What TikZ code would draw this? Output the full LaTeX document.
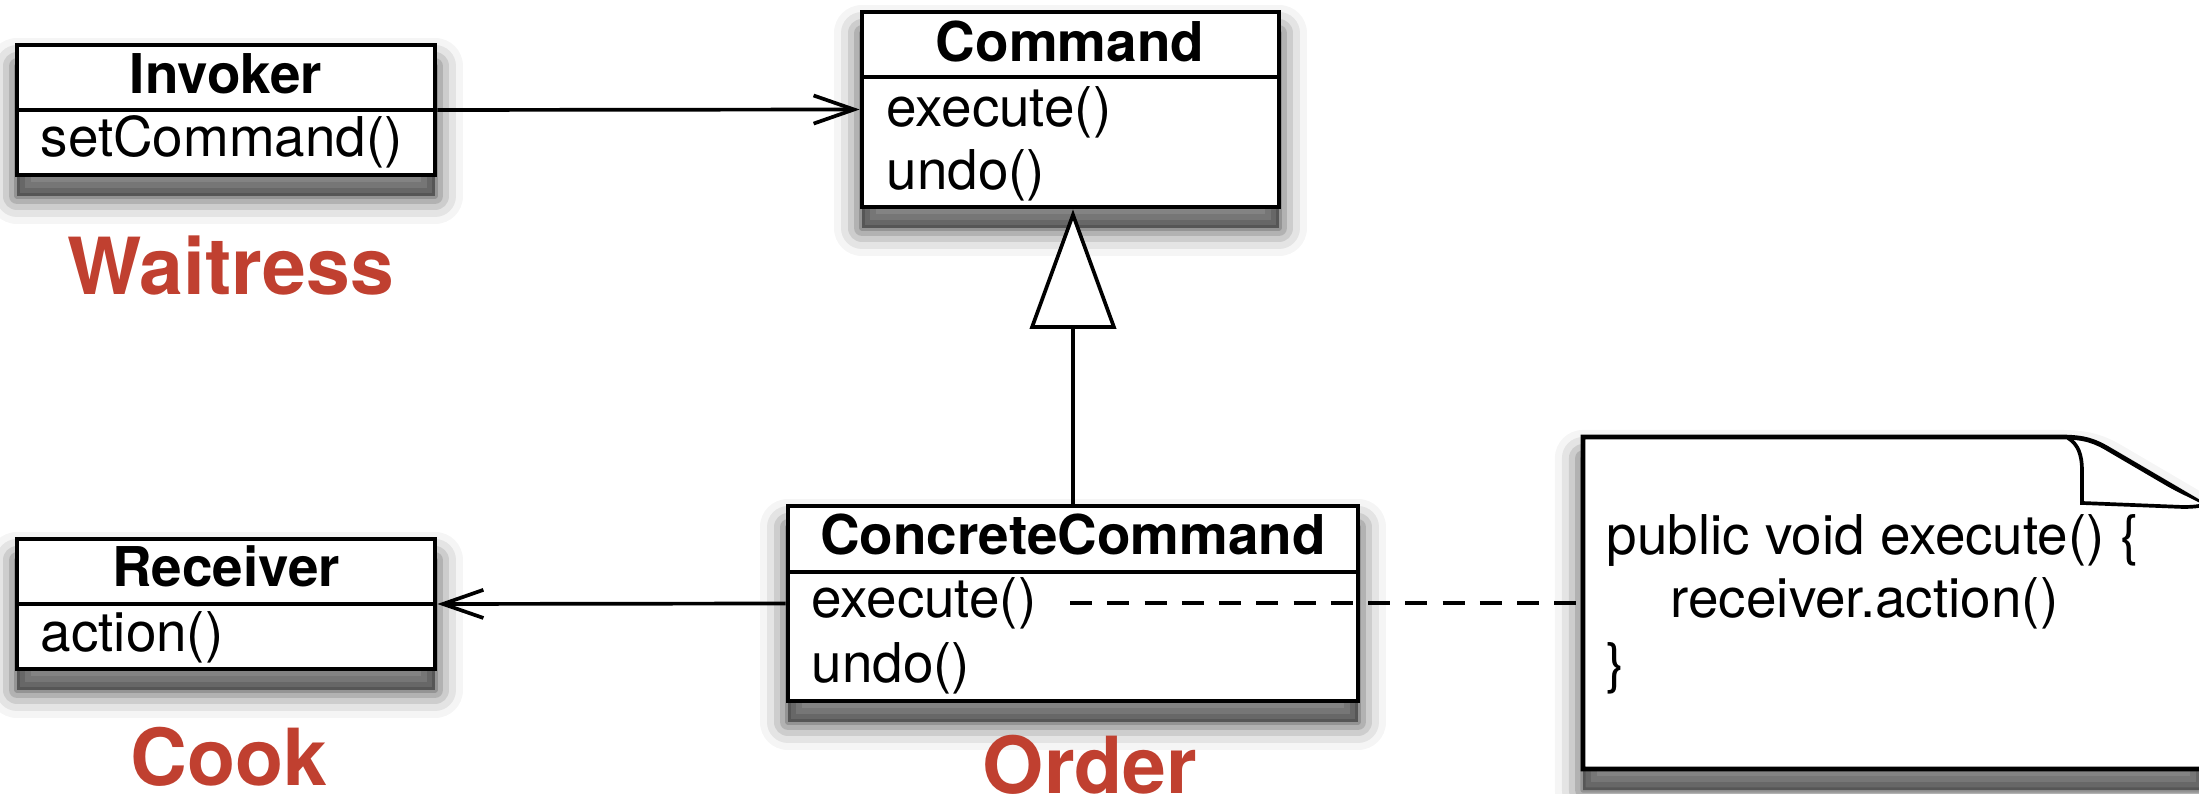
\documentclass[tikz,border=0pt]{standalone}
\usepackage{fontspec}
\setmainfont{TeX Gyre Heros}
\usetikzlibrary{arrows.meta,fit}
\definecolor{labred}{RGB}{192,64,48}
\begin{document}
\begin{tikzpicture}[x=0.1mm,y=-0.1mm,
  shad/.style={
    preaction={draw=black, fill=black, line width=16pt, line join=round, opacity=0.04, transform canvas={yshift=-6pt}},
    preaction={draw=black, fill=black, line width=12pt, line join=round, opacity=0.07, transform canvas={yshift=-6pt}},
    preaction={draw=black, fill=black, line width=8pt, line join=round, opacity=0.1, transform canvas={yshift=-6pt}},
    preaction={draw=black, fill=black, line width=4.5pt, line join=round, opacity=0.13, transform canvas={yshift=-6pt}},
    preaction={draw=black, fill=black, line width=1.5pt, line join=round, opacity=0.17, transform canvas={yshift=-6pt}}},
  box/.style={draw, line width=1.35pt, fill=white, inner sep=0pt, shad},
  ttl/.style={font=\fontsize{15.6pt}{18pt}\selectfont\bfseries, inner sep=0pt, anchor=base},
  mth/.style={font=\fontsize{15.6pt}{18pt}\selectfont, inner sep=0pt, anchor=base west},
  lab/.style={font=\fontsize{22.4pt}{26pt}\selectfont\bfseries, text=labred, inner sep=0pt, anchor=base},
  div/.style={line width=1.35pt},
  assoc/.style={line width=1.05pt, -{Straight Barb[length=11.5pt, width=8pt, line width=1.05pt]}},
  gen/.style={line width=1.05pt, -{Triangle[length=34pt, width=24.5pt, fill=white, line width=1.05pt]}},
  dashline/.style={line width=1.05pt, dash pattern=on 6.3pt off 4.3pt}
]
\useasboundingbox (0,0) rectangle (2199,794);

% Invoker
\coordinate (inv1) at (17,45); \coordinate (inv2) at (435,175);
\node[box, fit=(inv1)(inv2)] (inv) {};
\draw[div] (17,110) -- (435,110);
\node[ttl] (invt) at (226,94) {Invoker};
\node[mth] (invm) at (40,157) {setCommand()};

% Command
\coordinate (cmd1) at (862,12); \coordinate (cmd2) at (1279,207);
\node[box, fit=(cmd1)(cmd2)] (cmd) {};
\draw[div] (862,77) -- (1279,77);
\node[ttl] (cmdt) at (1070,62) {Command};
\node[mth] (cmdm1) at (886,127) {execute()};
\node[mth] (cmdm2) at (886,190) {undo()};

% Receiver
\coordinate (rec1) at (17,539); \coordinate (rec2) at (435,669);
\node[box, fit=(rec1)(rec2)] (rec) {};
\draw[div] (17,604) -- (435,604);
\node[ttl] (rect) at (226,587) {Receiver};
\node[mth] (recm) at (40,652) {action()};

% ConcreteCommand
\coordinate (cc1) at (788,506); \coordinate (cc2) at (1358,701);
\node[box, fit=(cc1)(cc2)] (cc) {};
\draw[div] (788,572) -- (1358,572);
\node[ttl] (cct) at (1073,555) {ConcreteCommand};
\node[mth] (ccm1) at (811,618) {execute()};
\node[mth] (ccm2) at (811,683) {undo()};

% Note
\coordinate (n1) at (1583,437); \coordinate (n2) at (2204,769);
\node[fit=(n1)(n2), inner sep=0pt] (note) {};
\path[draw, line width=1.35pt, fill=white, shad]
  (1583,437) -- (2060,437) .. controls (2085,437) and (2095,441) .. (2110,450)
  -- (2204,505) -- (2204,769) -- (1583,769) -- cycle;
\draw[line width=1.05pt, fill=white]
  (2068,438) .. controls (2078,444) and (2082,455) .. (2082,470)
  -- (2082,503) -- (2183,507) .. controls (2194,507) and (2200,506) .. (2204,505);
\node[mth] (nt1) at (1606,555) {public void execute() \{};
\node[mth] (nt2) at (1670,618) {receiver.action()};
\node[mth] (nt3) at (1606,683) {\}};

% Labels
\node[lab] (waitress) at (231,295) {Waitress};
\node[lab] (cook) at (229,786) {Cook};
\node[lab] (order) at (1090,794) {Order};

% Connectors
\draw[assoc] (inv.east) -- (cmd.west);
\draw[assoc] (cc.west) -- (rec.east);
\draw[gen] (cc.north) -- (cc.north |- cmd.south);
\coordinate (dstart) at (1070,603);
\draw[dashline] (dstart) -- (note.west);
\end{tikzpicture}
\end{document}
